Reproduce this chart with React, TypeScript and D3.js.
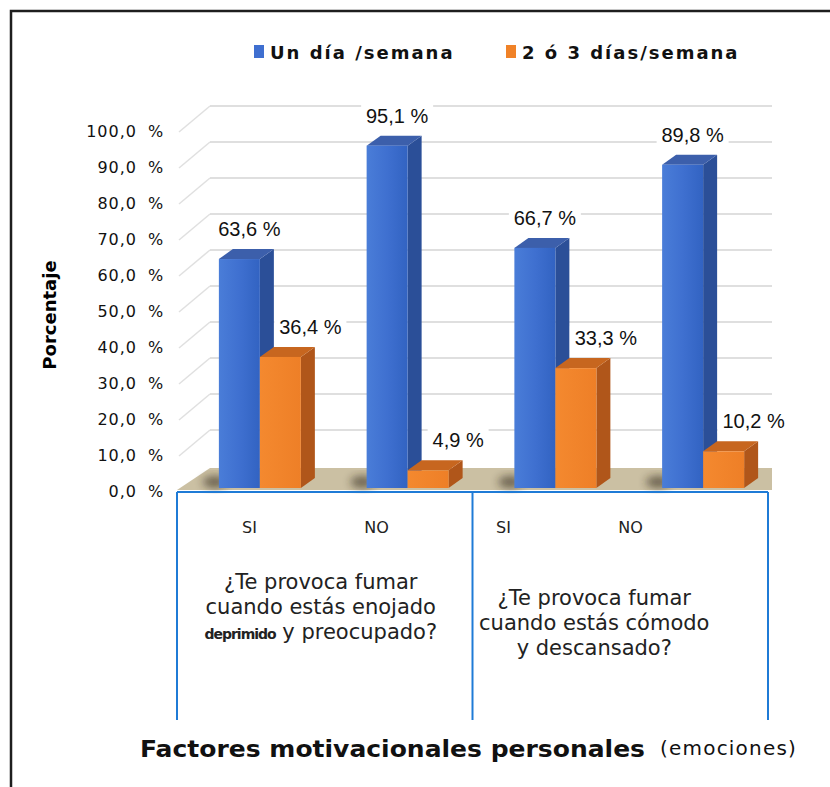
import React from "react";
import * as d3 from "d3";

const categories = ["SI", "NO", "SI", "NO"];
const series = ["Un día /semana", "2 ó 3 días/semana"];
const unDia = [63.6, 95.1, 66.7, 89.8];
const dosTres = [36.4, 4.9, 33.3, 10.2];
const yTicks = [0, 10, 20, 30, 40, 50, 60, 70, 80, 90, 100];
const groupLabels = [
  ["¿Te provoca fumar", "cuando estás enojado", "deprimido|y preocupado?"],
  ["¿Te provoca fumar", "cuando estás cómodo", "y descansado?"],
];

const W = 830;
const H = 787;
const left = 177;
const right = 768;
const depthX = 33;
const depthY = 22;
const barDx = 14;
const barDy = 10;
const barW = 41;

const colors = {
  blue: { front: "url(#gBlue)", side: "#2b4f98", top: "#3c5fab" },
  orange: { front: "url(#gOrange)", side: "#b0561a", top: "#c7661f" },
};

const fmt = (v: number) => d3.format(".1f")(v).replace(".", ",");

export default function App() {
  const y = d3.scaleLinear().domain([0, 100]).range([488, 128]);
  const x0 = d3.scaleBand<number>().domain(d3.range(categories.length)).range([left, right]);
  const bw = x0.bandwidth();
  const x1 = d3
    .scaleBand<number>()
    .domain([0, 1])
    .range([bw / 2 - barW + 9, bw / 2 + barW + 9]);
  const xGroup = d3.scaleBand<number>().domain([0, 1]).range([left, right]);
  const xTick = d3.scaleBand<number>().domain(d3.range(categories.length)).range([186, 694]);

  const bars = categories.flatMap((c, i) =>
    [unDia[i], dosTres[i]].map((v, s) => ({ i, s, v }))
  );

  const y0 = y(0);

  return (
    <svg
      width={W}
      height={H}
      style={{ position: "absolute", left: 0, top: 0, background: "#fff" }}
    >
      <defs>
        <linearGradient id="gBlue" x1="0" x2="1" y1="0" y2="0">
          <stop offset="0" stopColor="#4a7dd8" />
          <stop offset="0.5" stopColor="#3f70d0" />
          <stop offset="1" stopColor="#3263c2" />
        </linearGradient>
        <linearGradient id="gOrange" x1="0" x2="1" y1="0" y2="0">
          <stop offset="0" stopColor="#f4892f" />
          <stop offset="1" stopColor="#ee7f27" />
        </linearGradient>
        <filter id="blur" x="-50%" y="-50%" width="200%" height="200%">
          <feGaussianBlur stdDeviation="4" />
        </filter>
      </defs>

      {/* marco */}
      <rect x={11} y={11} width={W} height={H} fill="none" stroke="#1e1e1e" strokeWidth={2.5} />

      {/* legend */}
      <g fontFamily="DejaVu Sans" fontWeight="bold" fontSize={18} fill="#111">
        <rect x={254} y={45} width={10} height={13} fill="#3f6fd0" />
        <text x={270} y={59} letterSpacing={2}>
          {series[0]}
        </text>
        <rect x={506} y={45} width={10} height={13} fill="#f08228" />
        <text x={522} y={59} letterSpacing={2}>
          {series[1]}
        </text>
      </g>

      {/* gridlines (pared del fondo y lateral) */}
      <g stroke="#d4d4d4" strokeWidth={1.5} fill="none">
        {yTicks
          .filter((t) => t > 0)
          .map((t) => (
            <g key={t}>
              <line x1={left + 2} y1={y(t) + 4} x2={left + depthX} y2={y(t) - depthY} stroke="#e0e0e0" />
              <line x1={left + depthX} y1={y(t) - depthY} x2={right + 4} y2={y(t) - depthY} />
            </g>
          ))}
      </g>

      {/* suelo */}
      <path
        d={`M${left},${y0 + 2} L${right + 4},${y0 + 2} L${right + 4},${y0 - depthY + 2} L${left + depthX},${y0 - depthY + 2} Z`}
        fill="#cbc0a3"
      />
      {categories.map((c, i) => (
        <ellipse
          key={i}
          cx={(x0(i) as number) + (x1(0) as number) - 4}
          cy={y0 - 6}
          rx={12}
          ry={6}
          fill="#2a2418"
          opacity={0.6}
          filter="url(#blur)"
        />
      ))}

      {/* barras */}
      {bars.map(({ i, s, v }) => {
        const bx = (x0(i) as number) + (x1(s) as number);
        const top = y(v);
        const c = s === 0 ? colors.blue : colors.orange;
        return (
          <g key={`${i}-${s}`}>
            <path
              d={`M${bx + barW},${top} L${bx + barW + barDx},${top - barDy} L${bx + barW + barDx},${y0 - barDy} L${bx + barW},${y0} Z`}
              fill={c.side}
            />
            <path
              d={`M${bx},${top} L${bx + barDx},${top - barDy} L${bx + barW + barDx},${top - barDy} L${bx + barW},${top} Z`}
              fill={c.top}
            />
            <rect x={bx} y={top} width={barW} height={y0 - top} fill={c.front} />
          </g>
        );
      })}

      {/* etiquetas de valores */}
      <g fontFamily="Liberation Sans, Arial" fontSize={20} textAnchor="middle">
        {bars.map(({ i, s, v }) => {
          const bx = (x0(i) as number) + (x1(s) as number);
          const cx = bx + barW / 2 + (s === 0 ? 10 : 30);
          const cy = y(v) - 30;
          const label = `${fmt(v)} %`;
          const lw = label.length * 11 + 6;
          return (
            <g key={`l${i}-${s}`}>
              <rect x={cx - lw / 2} y={cy - 12} width={lw} height={24} fill="#fff" />
              <text x={cx} y={cy + 7} fill="#111">
                {label}
              </text>
            </g>
          );
        })}
      </g>

      {/* eje y */}
      <g fontFamily="DejaVu Sans" fontSize={16} fill="#111">
        {yTicks.map((t) => (
          <g key={t}>
            <text x={137} y={y(t) + 9} textAnchor="end" letterSpacing={1}>
              {fmt(t)}
            </text>
            <text x={148} y={y(t) + 9}>%</text>
          </g>
        ))}
      </g>
      <text
        transform="translate(56,315) rotate(-90)"
        textAnchor="middle"
        fontFamily="DejaVu Sans"
        fontWeight="bold"
        fontSize={18}
      >
        Porcentaje
      </text>

      {/* tabla de categorias */}
      <g stroke="#1f7bd6" strokeWidth={2}>
        <line x1={left} y1={492} x2={right} y2={492} />
        {[left, (xGroup(1) as number), right].map((xx, k) => (
          <line key={k} x1={xx} y1={492} x2={xx} y2={720} />
        ))}
      </g>
      <g fontFamily="DejaVu Sans" fontSize={16} textAnchor="middle" fill="#222">
        {categories.map((c, i) => (
          <text key={i} x={(xTick(i) as number) + xTick.bandwidth() / 2} y={533}>
            {c}
          </text>
        ))}
      </g>
      <g fontFamily="DejaVu Sans" fontSize={21} fill="#222" textAnchor="middle">
        {groupLabels.map((lines, g) => {
          const cx = (xGroup(g) as number) + xGroup.bandwidth() / 2 - (g === 0 ? 4 : 26);
          const startY = g === 0 ? 589 : 605;
          return (
            <text key={g} x={cx} y={startY}>
              {lines.map((ln, k) => {
                const parts = ln.split("|");
                return (
                  <tspan key={k} x={cx} dy={k === 0 ? 0 : 25}>
                    {parts.length > 1 ? (
                      <>
                        <tspan fontSize={14} fontWeight="bold" letterSpacing={-1}>
                          {parts[0]}
                        </tspan>
                        <tspan>{" " + parts[1]}</tspan>
                      </>
                    ) : (
                      ln
                    )}
                  </tspan>
                );
              })}
            </text>
          );
        })}
      </g>

      {/* titulo eje x */}
      <text
        x={140}
        y={757}
        fontFamily="DejaVu Sans"
        fontWeight="bold"
        fontSize={23}
        fill="#111"
        textLength={505}
        lengthAdjust="spacingAndGlyphs"
      >
        Factores motivacionales personales
      </text>
      <text x={660} y={755} fontFamily="DejaVu Sans" fontSize={20} fill="#111" letterSpacing={1.2}>
        (emociones)
      </text>
    </svg>
  );
}
